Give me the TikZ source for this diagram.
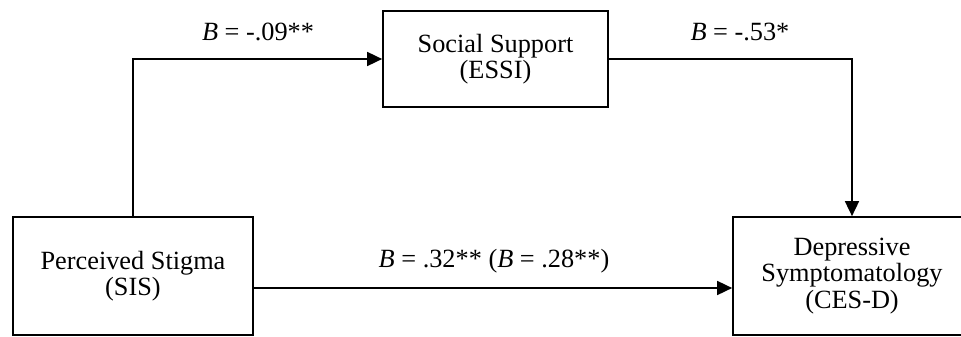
\documentclass[tikz,border=0pt]{standalone}
\usepackage{fontspec}
\setmainfont{Liberation Serif}
\usetikzlibrary{arrows.meta}
\begin{document}
\begin{tikzpicture}[x=1pt,y=-1pt,
  varbox/.style={draw=black, line width=1.7pt, rectangle, align=center, inner sep=0pt,
    font=\fontsize{26.3}{26.5}\selectfont},
  path/.style={draw=black, line width=1.7pt, -{Triangle[length=15pt,width=14pt]}},
  coef/.style={font=\fontsize{26.3}{26.5}\selectfont, inner sep=0pt}]
\useasboundingbox (0,0) rectangle (961,337);
\node[varbox, minimum width=225pt, minimum height=96pt] (SS) at (495.5,59) {Social Support\\(ESSI)};
\node[varbox, minimum width=240pt, minimum height=118pt] (PS) at (133,276) {Perceived Stigma\\(SIS)};
\node[varbox, minimum width=238pt, minimum height=118pt] (DS) at (852,276) {Depressive\\Symptomatology\\(CES-D)};
\draw[path] (PS.north) |- (SS.west);
\draw[path] (SS.east) -| (DS.north);
\draw[path] ([yshift=-12pt]PS.east) -- ([yshift=-12pt]DS.west);
\node[coef] (c1) at (258,32) {\textit{B} = -.09**};
\node[coef] (c2) at (740,32) {\textit{B} = -.53*};
\node[coef] (c3) at (494,261) {\textit{B} = .32** (\textit{B} = .28**)};
\end{tikzpicture}
\end{document}
